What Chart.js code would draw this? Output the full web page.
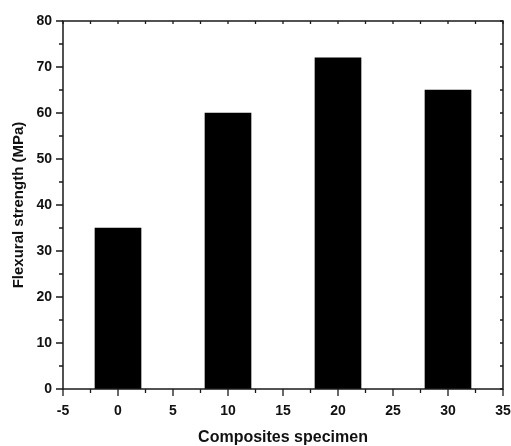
<!DOCTYPE html>
<html>
<head>
<meta charset="utf-8">
<script src="https://cdn.jsdelivr.net/npm/chart.js@4/dist/chart.umd.min.js"></script>
<style>
  html, body { margin: 0; padding: 0; background: #fff; }
  #wrap { width: 511px; height: 446px; }
</style>
</head>
<body>
<div id="wrap"><canvas id="myChart"></canvas></div>
<script>
// specimen (x) and flexural strength values
var specimens = [0, 10, 20, 30];
var strength = [35, 60, 72, 65];

var xMin = -5, xMax = 35, xStep = 5;
var yMin = 0, yMax = 80, yStep = 10;

var FONT = "'Liberation Sans', Arial, sans-serif";

// frame + major/minor tick marks, drawn off the chart scales
var frameTicks = {
  id: 'frameTicks',
  afterDraw: function(chart) {
    var ctx = chart.ctx;
    var x = chart.scales.x, y = chart.scales.y;
    var a = chart.chartArea;
    ctx.save();
    ctx.strokeStyle = '#1a1a1a';
    ctx.lineWidth = 1.5;
    ctx.strokeRect(a.left, a.top, a.right - a.left, a.bottom - a.top);

    ctx.lineWidth = 1.3;
    ctx.beginPath();
    // bottom axis: major out, minor out shorter; top axis: small inward
    for (var v = xMin; v <= xMax + 0.001; v += xStep / 2) {
      var px = x.getPixelForValue(v);
      var major = Math.abs(v / xStep - Math.round(v / xStep)) < 0.001;
      ctx.moveTo(px, a.bottom);
      ctx.lineTo(px, a.bottom + (major ? 7 : 4));
      ctx.moveTo(px, a.top);
      ctx.lineTo(px, a.top + 3);
    }
    // left axis: major out, minor out shorter; right axis: small inward
    for (var w = yMin; w <= yMax + 0.001; w += yStep / 2) {
      var py = y.getPixelForValue(w);
      var maj = Math.abs(w / yStep - Math.round(w / yStep)) < 0.001;
      ctx.moveTo(a.left, py);
      ctx.lineTo(a.left - (maj ? 7 : 4), py);
      ctx.moveTo(a.right, py);
      ctx.lineTo(a.right - 3, py);
    }
    ctx.stroke();
    ctx.restore();
  }
};

var ctx = document.getElementById('myChart');
var chart = new Chart(ctx, {
  type: 'bar',
  data: {
    datasets: [{
      data: specimens.map(function(s, i) { return {x: s, y: strength[i]}; }),
      backgroundColor: '#000000',
      borderWidth: 0,
      barThickness: 46
    }]
  },
  options: {
    responsive: true,
    maintainAspectRatio: false,
    animation: false,
    layout: { padding: { top: 21, right: 8, left: 0, bottom: 0 } },
    plugins: { legend: { display: false }, tooltip: { enabled: false } },
    scales: {
      x: {
        type: 'linear',
        min: xMin, max: xMax,
        offset: false,
        grid: { display: false, drawTicks: false },
        border: { display: false },
        ticks: {
          stepSize: xStep,
          padding: 14,
          color: '#111',
          font: { family: FONT, size: 14, weight: 'bold' }
        },
        title: {
          display: true,
          text: 'Composites specimen',
          color: '#111',
          font: { family: FONT, size: 16, weight: 'bold' },
          padding: { top: 0, bottom: -1 }
        },
        afterFit: function(scale) {
          scale.height = 57;
          scale.paddingLeft = 0;
          scale.paddingRight = 0;
        }
      },
      y: {
        min: yMin, max: yMax,
        grid: { display: false, drawTicks: false },
        border: { display: false },
        ticks: {
          stepSize: yStep,
          padding: 11,
          color: '#111',
          font: { family: FONT, size: 14, weight: 'bold' }
        },
        title: {
          display: true,
          text: 'Flexural strength (MPa)',
          color: '#111',
          font: { family: FONT, size: 15, weight: 'bold' },
          padding: { top: 10, bottom: 0 }
        },
        afterFit: function(scale) {
          scale.width = 63;
          scale.paddingTop = 0;
          scale.paddingBottom = 0;
        }
      }
    }
  },
  plugins: [frameTicks]
});
</script>
</body>
</html>
